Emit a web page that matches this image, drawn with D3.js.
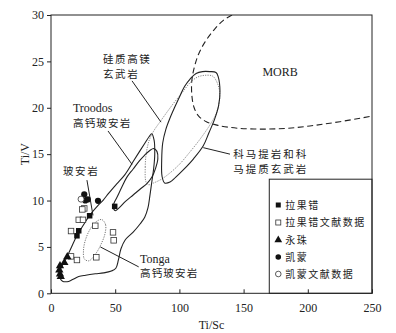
<!DOCTYPE html>
<html><head><meta charset="utf-8">
<script src="https://cdn.jsdelivr.net/npm/d3@7/dist/d3.min.js"></script>
<style>
html,body{margin:0;padding:0;background:#fff;}
svg{display:block;}
</style></head>
<body>
<svg id="chart" width="396" height="333"></svg>
<script>
// ---- data (Ti/Sc, Ti/V) ----
const xTicks = [0, 50, 100, 150, 200, 250];
const yTicks = [0, 5, 10, 15, 20, 25, 30];

const lagocuo = [[49.6,9.37],[30.1,8.36],[21.6,6.74],[20.2,6.2]];
const lagocuoLit = [[25.9,9.15],[24.4,9.04],[21.6,7.92],[24.9,7.92],[15.6,6.71],[34.5,7.28],[48.3,6.57],[48.8,5.71],[15.6,3.98],[20.2,3.59],[35.3,3.88]];
const yongzhu = [[12.7,3.94],[10.4,3.3],[7.0,2.97],[6.5,2.5],[7.0,2.08],[7.6,1.79]];
const kaimeng = [[25.9,10.66],[26.7,10.01],[28.6,10.12],[36.6,9.97]];
const kaimengLit = [[23.4,10.15]];

const fieldMORB = [[141,30],[134,29.4],[127,28.4],[120,27.1],[115,25.8],[111.5,24.3],[109.6,22.8],[109.8,21.2],[111.5,20],[115,19.1],[121,18.5],[130,18.1],[145,17.8],[165,17.7],[185,17.8],[205,18.1],[225,18.5],[250,19.1]];
const fieldKomatiite = [[130.3,23.3],[131.6,21.8],[130.5,20.2],[127.5,18.8],[123,17.3],[118.6,15.9],[111,14.5],[103,13.3],[97,12.5],[92.7,12.0],[88.5,11.9],[86.5,12.6],[86.2,14.3],[87,16.2],[89.5,17.7],[92.7,18.9],[96.5,20.1],[100.5,21.3],[104,22.3],[108.3,23.1],[113,23.7],[118,23.9],[123.8,23.9],[128.5,23.8]];
const fieldSiliceous = [[74,12.0],[73.4,13.6],[74.2,15.1],[76.5,16.5],[80,17.5],[85,18.5],[95,20.4],[102,21.6],[108.3,22.7],[114,23.3],[120,23.5],[126,23.4],[130,22.5],[131.5,21.3],[129,19.5],[124,18.2],[116,16.6],[108,15.2],[100,13.9],[92,12.9],[86,12.3],[80,11.9],[76,11.7]];
const fieldTroodos = [[48.5,9.3],[50,8.9],[53,9.2],[58,9.9],[64,10.6],[70,11.3],[74.5,11.8],[78.5,12.5],[81.5,13.5],[83.2,14.5],[82.5,15.3],[80,15.6],[77,15.4],[73,14.9],[69,14.3],[64,13.4],[59,12.5],[55,11.4],[51.2,10.3],[49,9.7]];
const fieldBoninite = [[78.4,17.2],[80.3,16.5],[80.8,15],[80,13.5],[78.5,12],[77,10.5],[75.5,9.2],[73,8.2],[69.5,7.5],[64,6.6],[58,5.8],[54.5,4.8],[52.5,3.6],[50.5,2.7],[47,2.4],[41,2.2],[34.5,2.1],[27,1.95],[21.6,1.8],[16.4,1.45],[12.5,1.25],[9,1.3],[7.2,1.6],[6.8,2.3],[8,2.8],[10.4,3.35],[12.7,4.0],[16,5.0],[20.2,6.2],[25,7.3],[30.1,8.4],[36.5,9.45],[40.7,10.05],[45,10.8],[51.2,11.8],[57.6,12.8],[64,14.2],[69,15.3],[73.2,16.2],[76.5,16.9]];
const fieldTonga = [[39.5,7.95],[42.5,7.4],[42,6.4],[39,5.3],[35,4.3],[29.5,3.5],[26,3.7],[25.3,4.6],[26.5,5.6],[30,6.8],[35,7.7]];

const legendLabels = ["拉果错","拉果错文献数据","永珠","凯蒙","凯蒙文献数据"];

// ---- layout ----
const svg = d3.select("#chart");
const M = {left:51, right:372, top:15, bottom:293.3};
const x = d3.scaleLinear().domain([0,250]).range([M.left, M.right]);
const y = d3.scaleLinear().domain([0,30]).range([M.bottom, M.top]);
const serif = "'Liberation Serif','Times New Roman',serif";
const cjk = "'Noto Sans CJK SC','Noto Sans CJK JP',sans-serif";

svg.append("clipPath").attr("id","pc").append("rect")
  .attr("x",M.left).attr("y",M.top).attr("width",M.right-M.left).attr("height",M.bottom-M.top);

const g = svg.append("g").attr("clip-path","url(#pc)");
const closed = d3.line().x(d=>x(d[0])).y(d=>y(d[1])).curve(d3.curveCatmullRomClosed.alpha(0.5));
const open = d3.line().x(d=>x(d[0])).y(d=>y(d[1])).curve(d3.curveCatmullRom.alpha(0.5));

g.append("path").attr("d",open(fieldMORB)).attr("fill","none").attr("stroke","#222").attr("stroke-width",1.1).attr("stroke-dasharray","6,3.5");
g.append("path").attr("d",closed(fieldSiliceous)).attr("fill","none").attr("stroke","#777").attr("stroke-width",0.9).attr("stroke-dasharray","1.2,1.2");
g.append("path").attr("d",closed(fieldKomatiite)).attr("fill","none").attr("stroke","#222").attr("stroke-width",1.1);
g.append("path").attr("d",closed(fieldTroodos)).attr("fill","none").attr("stroke","#222").attr("stroke-width",1.1);
g.append("path").attr("d",closed(fieldBoninite)).attr("fill","none").attr("stroke","#222").attr("stroke-width",1.1);
g.append("path").attr("d",closed(fieldTonga)).attr("fill","none").attr("stroke","#666").attr("stroke-width",0.9).attr("stroke-dasharray","1.2,1.2");

// leaders
const leaders = [
  [[44.4,17.5],[63.1,13.9]],
  [[63.1,22.9],[85.7,18.45]],
  [[28,12.2],[32.7,8.4]],
  [[38.4,5.0],[68.3,2.85]],
  [[118.6,15.7],[139.4,15.0]]
];
leaders.forEach(l=>{
  g.append("line").attr("x1",x(l[0][0])).attr("y1",y(l[0][1])).attr("x2",x(l[1][0])).attr("y2",y(l[1][1]))
   .attr("stroke","#222").attr("stroke-width",1);
});

// labels
function lab(txt, dx, dy, font, size, anchor, ls){
  svg.append("text").attr("x",x(dx)).attr("y",y(dy)).text(txt)
    .attr("font-family",font).attr("font-size",size).attr("fill","#222")
    .attr("text-anchor",anchor||"start").attr("letter-spacing",ls||0);
}
lab("MORB", 178.4, 23.4, serif, 12, "middle");
lab("硅质高镁", 40.5, 24.8, cjk, 10.5, "start", 1.6);
lab("玄武岩", 40.5, 23.25, cjk, 10.5, "start", 1.6);
lab("Troodos", 17.1, 19.5, serif, 12, "start");
lab("高钙玻安岩", 17.1, 17.9, cjk, 10.5, "start", 1.2);
lab("玻安岩", 9.3, 12.7, cjk, 10.5, "start", 1.6);
lab("Tonga", 69.3, 3.3, serif, 12, "start");
lab("高钙玻安岩", 69.3, 1.72, cjk, 10.5, "start", 1.2);
lab("科马提岩和科", 142, 14.6, cjk, 10.5, "start", 2);
lab("马提质玄武岩", 142, 13.0, cjk, 10.5, "start", 2);

// points
const pg = svg.append("g");
const sq = 5.5;
pg.selectAll(".lk").data(lagocuo).join("rect").attr("x",d=>x(d[0])-sq/2).attr("y",d=>y(d[1])-sq/2).attr("width",sq).attr("height",sq).attr("fill","#111");
pg.selectAll(".ll").data(lagocuoLit).join("rect").attr("x",d=>x(d[0])-sq/2).attr("y",d=>y(d[1])-sq/2).attr("width",sq).attr("height",sq).attr("fill","#fff").attr("stroke","#333").attr("stroke-width",0.8);
const tri = d3.symbol().type(d3.symbolTriangle).size(30);
pg.selectAll(".yz").data(yongzhu).join("path").attr("d",tri).attr("transform",d=>`translate(${x(d[0])},${y(d[1])})`).attr("fill","#111");
pg.selectAll(".km").data(kaimeng).join("circle").attr("cx",d=>x(d[0])).attr("cy",d=>y(d[1])).attr("r",3.1).attr("fill","#111");
pg.selectAll(".kl").data(kaimengLit).join("circle").attr("cx",d=>x(d[0])).attr("cy",d=>y(d[1])).attr("r",3).attr("fill","#fff").attr("stroke","#333").attr("stroke-width",0.8);

// legend
const lx = x(170), ly = y(12.3);
svg.append("rect").attr("x",lx).attr("y",ly).attr("width",M.right-lx).attr("height",M.bottom-ly).attr("fill","#fff").attr("stroke","#222").attr("stroke-width",1);
const ley = [205,222.5,240,257,274];
legendLabels.forEach((t,i)=>{
  const cy = ley[i], cx = lx+9;
  if(i===0) svg.append("rect").attr("x",cx-2.5).attr("y",cy-2.5).attr("width",5).attr("height",5).attr("fill","#111");
  if(i===1) svg.append("rect").attr("x",cx-2.5).attr("y",cy-2.5).attr("width",5).attr("height",5).attr("fill","#fff").attr("stroke","#333").attr("stroke-width",0.8);
  if(i===2) svg.append("path").attr("d",d3.symbol().type(d3.symbolTriangle).size(26)()).attr("transform",`translate(${cx},${cy})`).attr("fill","#111");
  if(i===3) svg.append("circle").attr("cx",cx).attr("cy",cy).attr("r",2.8).attr("fill","#111");
  if(i===4) svg.append("circle").attr("cx",cx).attr("cy",cy).attr("r",2.8).attr("fill","#fff").attr("stroke","#333").attr("stroke-width",0.8);
  svg.append("text").attr("x",cx+7).attr("y",cy+3.8).text(t).attr("font-family",cjk).attr("font-size",10).attr("letter-spacing",1.5).attr("fill","#222");
});

// frame & axes
svg.append("rect").attr("x",M.left).attr("y",M.top).attr("width",M.right-M.left).attr("height",M.bottom-M.top).attr("fill","none").attr("stroke","#222").attr("stroke-width",1);
const xa = svg.append("g").attr("transform",`translate(0,${M.bottom})`).call(d3.axisBottom(x).tickValues(xTicks).tickSizeInner(-4).tickSizeOuter(0).tickPadding(10));
const ya = svg.append("g").attr("transform",`translate(${M.left},0)`).call(d3.axisLeft(y).tickValues(yTicks).tickSizeInner(4).tickSizeOuter(0).tickPadding(3));
[xa,ya].forEach(a=>{
  a.select(".domain").remove();
  a.selectAll("line").attr("stroke","#222");
  a.selectAll("text").attr("font-family",serif).attr("font-size",12).attr("fill","#222");
});
svg.append("text").attr("x",x(125)).attr("y",329).attr("text-anchor","middle").text("Ti/Sc").attr("font-family",serif).attr("font-size",12).attr("fill","#222");
svg.append("text").attr("transform",`translate(29,${y(15)}) rotate(-90)`).attr("text-anchor","middle").text("Ti/V").attr("font-family",serif).attr("font-size",12).attr("fill","#222");
</script>
</body></html>
